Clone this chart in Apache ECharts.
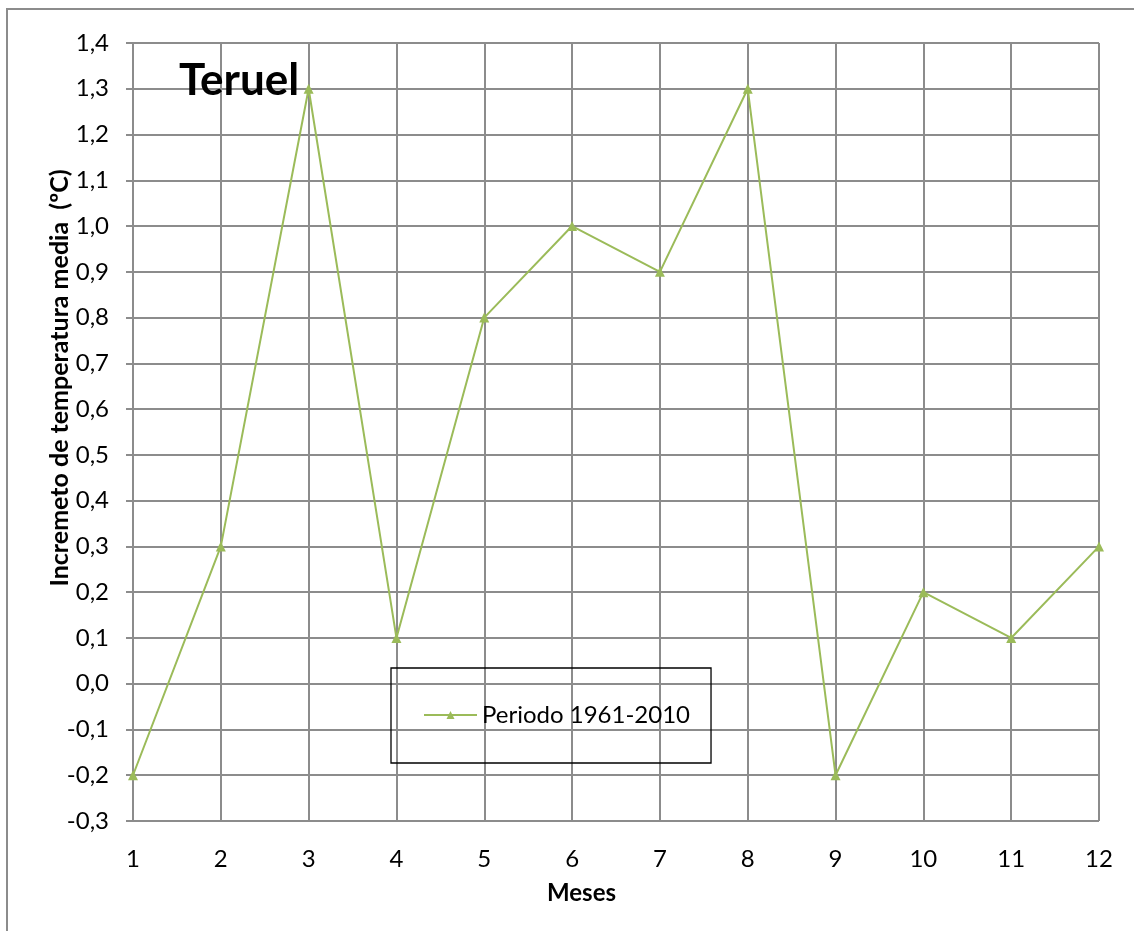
<!DOCTYPE html>
<html>
<head>
<meta charset="utf-8">
<script src="https://cdn.jsdelivr.net/npm/echarts@6/dist/echarts.min.js"></script>
<style>
  html, body { margin: 0; padding: 0; background: #fff; }
  #chart { width: 1134px; height: 931px; }
</style>
</head>
<body>
<div id="chart"></div>
<script>
// datos
const meses = ['1', '2', '3', '4', '5', '6', '7', '8', '9', '10', '11', '12'];
const incremento = [-0.2, 0.3, 1.3, 0.1, 0.8, 1.0, 0.9, 1.3, -0.2, 0.2, 0.1, 0.3];
const serieNombre = 'Periodo 1961-2010';
const nombreY = 'Incremeto de temperatura media  (ºC)';

const font = 'Lato, "Open Sans", sans-serif';
const gris = '#8c8c8c';
const verde = '#9bbb59';

let myChart = echarts.init(document.getElementById('chart'));
let option = {
  animation: false,
  backgroundColor: '#fff',
  grid: { left: 133, right: 35, top: 43, bottom: 110 },
  graphic: [
    // marco exterior
    {
      type: 'rect',
      shape: { x: 7, y: 9, width: 1140, height: 940 },
      style: { fill: 'none', stroke: gris, lineWidth: 2 },
      silent: true
    },
    {
      type: 'text',
      left: 179, top: 59,
      style: { text: 'Teruel', font: 'bold 44px ' + font, fill: '#000' },
      z: 10
    },
    {
      type: 'text',
      left: 547, top: 881,
      style: { text: 'Meses', font: 'bold 24px ' + font, fill: '#000' }
    },
    // titulo del eje y (algo desplazado hacia arriba como en el original)
    {
      type: 'text',
      x: 60, y: 378,
      rotation: Math.PI / 2,
      style: {
        text: nombreY, font: 'bold 25px ' + font, fill: '#000',
        align: 'center', verticalAlign: 'middle'
      }
    }
  ],
  legend: {
    left: 391, top: 668,
    padding: [35, 21, 36, 32],
    borderColor: '#000', borderWidth: 1.3,
    itemWidth: 53, itemHeight: 10, itemGap: 5,
    textStyle: { fontFamily: font, fontSize: 24, color: '#000' },
    data: [serieNombre]
  },
  xAxis: {
    type: 'category',
    data: meses,
    boundaryGap: false,
    axisLine: { lineStyle: { color: gris, width: 2 } },
    axisTick: { show: false },
    axisLabel: { color: '#000', fontFamily: font, fontSize: 24, margin: 26 },
    splitLine: { show: true, lineStyle: { color: gris, width: 2 } }
  },
  yAxis: {
    type: 'value',
    min: -0.3, max: 1.4, interval: 0.1,
    axisLine: { show: true, lineStyle: { color: gris, width: 2 } },
    axisTick: { show: true, length: 7, lineStyle: { color: gris, width: 2 } },
    axisLabel: {
      color: '#000', fontFamily: font, fontSize: 24, margin: 24,
      formatter: function (v) { return v.toFixed(1).replace('.', ','); }
    },
    splitLine: { show: true, lineStyle: { color: gris, width: 2 } }
  },
  series: [
    {
      name: serieNombre,
      type: 'line',
      data: incremento,
      symbol: 'triangle',
      symbolSize: 10,
      lineStyle: { color: verde, width: 2 },
      itemStyle: { color: verde }
    }
  ]
};
myChart.setOption(option);
</script>
</body>
</html>
